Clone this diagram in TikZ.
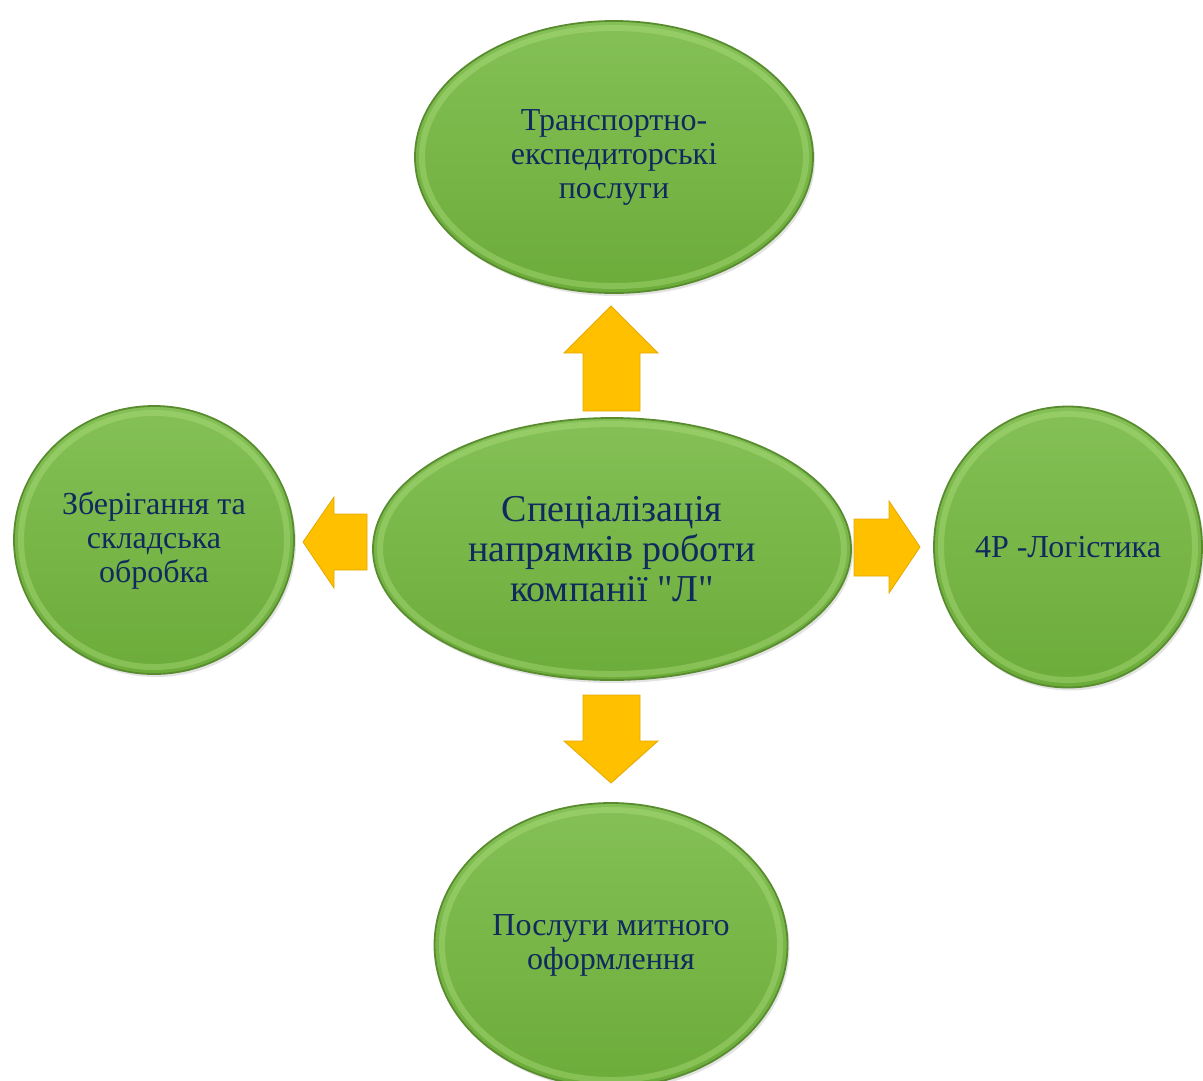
\documentclass[tikz,border=0pt]{standalone}
\usepackage{fontspec}
\setmainfont{Liberation Serif}[Ligatures=TeXOff]
\usetikzlibrary{shapes.geometric,shadows}
\definecolor{leaftop}{RGB}{132,192,86}
\definecolor{leafbottom}{RGB}{108,172,58}
\definecolor{leafedge}{RGB}{88,140,46}
\definecolor{leafrim}{RGB}{176,224,128}
\definecolor{inknavy}{RGB}{16,42,94}
\definecolor{arrowgold}{RGB}{255,192,0}
\definecolor{arrowedge}{RGB}{228,168,0}
\newcommand\bubblefont{\fontsize{32}{34}\selectfont}
\newcommand\hubfont{\fontsize{38}{40}\selectfont}
\tikzset{
  bubble/.style={ellipse, inner sep=0pt, top color=leaftop, bottom color=leafbottom,
    draw=leafedge, line width=1.8pt, text=inknavy, align=center, font=\bubblefont,
    drop shadow={opacity=0.22, shadow xshift=2pt, shadow yshift=-3pt}},
  rim/.style={draw=leafrim, line width=6pt, opacity=0.4},
  blockarrow/.style={fill=arrowgold, draw=arrowedge, line width=0.8pt, line join=miter},
}

\begin{document}
\begin{tikzpicture}[x=1pt,y=-1pt]
\useasboundingbox (0,0) rectangle (1203,1080);
\clip (0,0) rectangle (1203,1080);
\fill[white] (0,0) rectangle (1203,1080);
% Drawing bubbles
\node[bubble, font=\hubfont, minimum width=478pt, minimum height=262pt] (hub) at (612,549)
  {Спеціалізація\\напрямків роботи\\компанії "Л"};
\node[bubble, minimum width=398pt, minimum height=272pt] (transport) at (614,157)
  {Транспортно-\\експедиторські\\послуги};
\node[bubble, minimum width=280pt, minimum height=268pt] (storage) at (154,540)
  {Зберігання та\\складська\\обробка};
\node[bubble, minimum width=268pt, minimum height=281pt] (logistics) at (1068,547)
  {4Р -Логістика};
\node[bubble, minimum width=353pt, minimum height=284pt] (customs) at (611,945)
  {Послуги митного\\оформлення};
% Rims
\draw[rim] (hub.center) ellipse [x radius=232, y radius=125];
\draw[rim] (transport.center) ellipse [x radius=192, y radius=129];
\draw[rim] (storage.center) ellipse [x radius=133, y radius=127];
\draw[rim] (logistics.center) ellipse [x radius=127, y radius=133];
\draw[rim] (customs.center) ellipse [x radius=169, y radius=135];
% Done with bubbles; drawing arrows
% up, to transport
\draw[blockarrow] (611,306) -- (658,353) -- (640,353) -- (640,411) -- (583,411) -- (583,353) -- (564,353) -- cycle;
% down, to customs
\draw[blockarrow] (611,783) -- (658,741) -- (640,741) -- (640,695) -- (583,695) -- (583,741) -- (564,741) -- cycle;
% left, to storage
\draw[blockarrow] (303,542) -- (334,497) -- (334,514) -- (367,514) -- (367,570) -- (334,570) -- (334,588) -- cycle;
% right, to logistics
\draw[blockarrow] (920,547) -- (889,501) -- (889,519) -- (854,519) -- (854,576) -- (889,576) -- (889,593) -- cycle;
% Done with arrows
\end{tikzpicture}
\end{document}
